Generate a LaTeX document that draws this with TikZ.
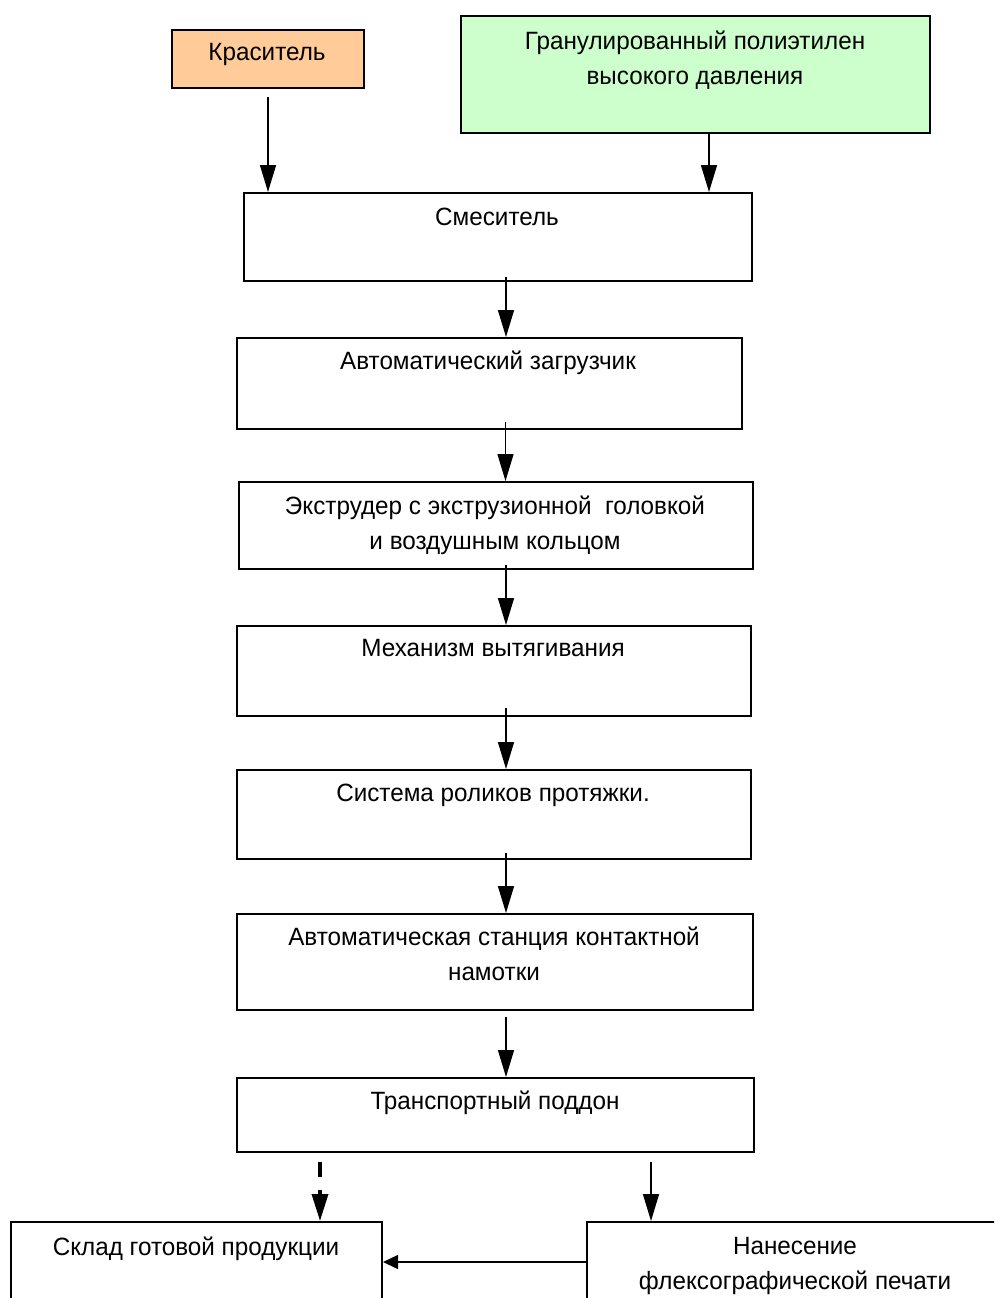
\documentclass[tikz,border=0pt]{standalone}
\usepackage{fontspec}
\setmainfont{Liberation Sans}[FakeStretch=0.97]
\usetikzlibrary{arrows.meta}
\definecolor{peach}{HTML}{FFCC99}
\definecolor{mint}{HTML}{CCFFCC}
\begin{document}
\begin{tikzpicture}[x=1pt,y=-1pt,
  box/.style={draw, line width=2pt, anchor=north west, inner sep=0pt},
  txt/.style={font=\fontsize{25}{35}\selectfont, align=center, anchor=north, inner sep=0pt},
  arr/.style={line width=1.4pt, -{Triangle[length=27pt,width=16pt]}},
  harr/.style={line width=1.4pt, -{Triangle[length=15pt,width=14pt]}}]
\useasboundingbox (0,0) rectangle (994,1298);
\clip (0,0) rectangle (994,1298);
\fill[white] (0,0) rectangle (994,1298);

% boxes
\node[box, fill=peach, minimum width=192pt, minimum height=58pt] (kras) at (171,29) {};
\node[box, fill=mint, minimum width=469pt, minimum height=117pt] (gran) at (460,15) {};
\node[box, minimum width=508pt, minimum height=88pt] (smes) at (243,192) {};
\node[box, minimum width=505pt, minimum height=91pt] (zag) at (236,337) {};
\node[box, minimum width=514pt, minimum height=87pt] (ext) at (238,481) {};
\node[box, minimum width=514pt, minimum height=90pt] (mech) at (236,625) {};
\node[box, minimum width=514pt, minimum height=89pt] (sys) at (236,769) {};
\node[box, minimum width=516pt, minimum height=96pt] (avt) at (236,913) {};
\node[box, minimum width=517pt, minimum height=74pt] (trans) at (236,1077) {};
\node[box, minimum width=371pt, minimum height=120pt] (sklad) at (10,1221) {};
\node[box, minimum width=450pt, minimum height=120pt] (nan) at (586,1221) {};

% texts
\node[txt] (kras-t) at (267,43) {Краситель};
\node[txt] (gran-t) at (695,31) {Гранулированный полиэтилен\\высокого давления};
\node[txt] (smes-t) at (497,208) {Смеситель};
\node[txt] (zag-t) at (488,351) {Автоматический загрузчик};
\node[txt] (ext-t) at (495,496) {Экструдер с экструзионной\ \ головкой\\и воздушным кольцом};
\node[txt] (mech-t) at (493,639) {Механизм вытягивания};
\node[txt] (sys-t) at (493,784) {Система роликов протяжки.};
\node[txt] (avt-t) at (494,927) {Автоматическая станция контактной\\намотки};
\node[txt] (trans-t) at (495,1091) {Транспортный поддон};
\node[txt] (sklad-t) at (196,1237) {Склад готовой продукции};
\node[txt] (nan-t) at (795,1237) {Нанесение\\флексографической печати};

% connectors
\coordinate (k0) at ([yshift=-8pt]kras.south);
\draw[arr] (k0) -- (k0 |- smes.north);
\coordinate (g0) at ([xshift=13.5pt]gran.south);
\draw[arr] (g0) -- (g0 |- smes.north);
\coordinate (a1) at ([xshift=8pt,yshift=5pt]smes.south);
\draw[arr] (a1) -- (a1 |- zag.north);
\coordinate (a2) at ([xshift=16pt,yshift=8pt]zag.south);
\draw[arr] (a2) -- (a2 |- ext.north);
\coordinate (a3) at ([xshift=10pt,yshift=5pt]ext.south);
\draw[arr] (a3) -- (a3 |- mech.north);
\coordinate (a4) at ([xshift=12pt,yshift=9pt]mech.south);
\draw[arr] (a4) -- (a4 |- sys.north);
\coordinate (a5) at ([xshift=12pt,yshift=7pt]sys.south);
\draw[arr] (a5) -- (a5 |- avt.north);
\coordinate (a6) at ([xshift=11pt,yshift=-6pt]avt.south);
\draw[arr] (a6) -- (a6 |- trans.north);
\coordinate (b1) at ([xshift=-175.5pt,yshift=-9pt]trans.south);
\draw[arr, line width=3.5pt, dash pattern=on 15pt off 13pt on 60pt] (b1) -- (b1 |- sklad.north);
\coordinate (b2) at ([xshift=155.5pt,yshift=-9pt]trans.south);
\draw[arr] (b2) -- (b2 |- nan.north);
\coordinate (c1) at ([yshift=-41pt]nan.north west);
\draw[harr] (c1) -- (c1 -| sklad.east);
\end{tikzpicture}
\end{document}
